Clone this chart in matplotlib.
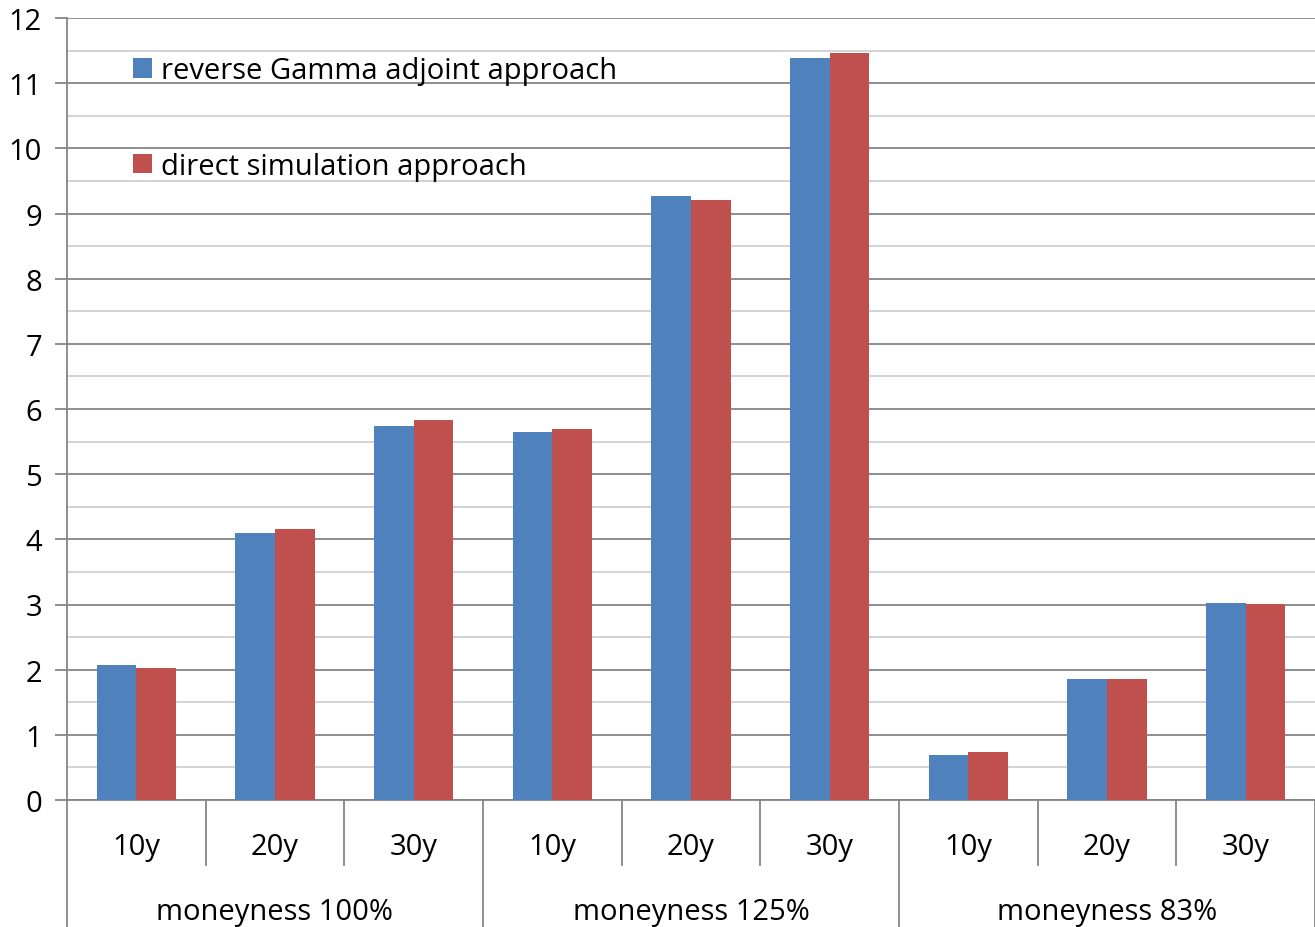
import numpy as np
import matplotlib
matplotlib.use('Agg')
import matplotlib.pyplot as plt
from matplotlib.ticker import MultipleLocator

plt.rcParams['font.family'] = ['Open Sans', 'DejaVu Sans']

# data
maturities = ['10y', '20y', '30y'] * 3
groups = ['moneyness 100%', 'moneyness 125%', 'moneyness 83%']
adjoint = [2.07, 4.10, 5.74, 5.65, 9.27, 11.39, 0.69, 1.86, 3.02]
direct = [2.03, 4.16, 5.83, 5.69, 9.21, 11.46, 0.74, 1.86, 3.01]

blue = '#4F81BD'
red = '#C0504D'
major_grey = '#868686'
fs = 21

fig = plt.figure(figsize=(13.15, 9.28), dpi=100)
ax = fig.add_axes([67 / 1315, 1 - 801 / 928, 1 - 67 / 1315, (801 - 19) / 928])

x = np.arange(len(maturities))
w = 1 / 3.5
ax.bar(x - w / 2, adjoint, width=w, color=blue, label='reverse Gamma adjoint approach', zorder=3)
ax.bar(x + w / 2, direct, width=w, color=red, label='direct simulation approach', zorder=3)

ax.set_xlim(-0.5, len(maturities) - 0.5)
ax.set_ylim(0, 12)
ax.yaxis.set_major_locator(MultipleLocator(1))
ax.yaxis.set_minor_locator(MultipleLocator(0.5))
ax.grid(axis='y', which='major', color=major_grey, linewidth=1.3, zorder=0)
ax.grid(axis='y', which='minor', color='#D0D0D0', linewidth=1.3, zorder=0)

for s in ['top', 'right']:
    ax.spines[s].set_visible(False)
ax.spines['left'].set_color(major_grey)
ax.spines['bottom'].set_color(major_grey)
ax.spines['left'].set_linewidth(1.3)
ax.spines['bottom'].set_linewidth(1.3)

ax.tick_params(axis='y', which='major', length=9, width=1.3, color=major_grey,
               labelsize=fs, pad=9)
ax.tick_params(axis='y', which='minor', length=0)
ax.set_xticks([])

# two-level category axis
trans = ax.get_xaxis_transform()
for i, lab in enumerate(maturities):
    ax.text(i, -0.060, lab, transform=trans, ha='center', va='center', fontsize=fs)
for g, lab in enumerate(groups):
    ax.text(3 * g + 1, -0.143, lab, transform=trans, ha='center', va='center', fontsize=fs)
for i in range(len(maturities) + 1):
    bottom = -0.17 if i % 3 == 0 else -0.083
    ax.plot([i - 0.5, i - 0.5], [0, bottom], transform=trans, color=major_grey,
            linewidth=1.3, clip_on=False)

ax.legend(loc='upper left', bbox_to_anchor=(0.0436, 0.966), frameon=False, fontsize=fs,
          handlelength=0.65, handleheight=0.65, handletextpad=0.3, labelspacing=2.28,
          borderaxespad=0)

plt.savefig('out.png', dpi=100, facecolor='white')
plt.close()
